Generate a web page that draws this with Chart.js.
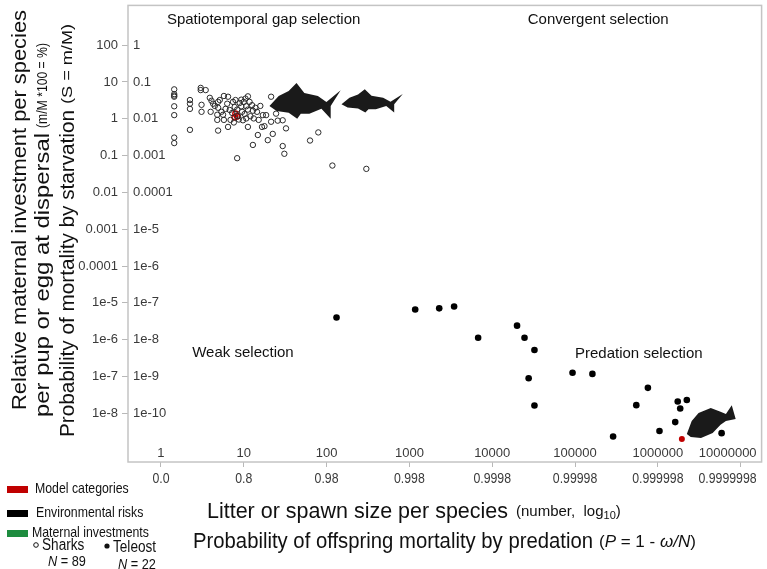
<!DOCTYPE html>
<html>
<head>
<meta charset="utf-8">
<title>Litter size vs maternal investment</title>
<script src="https://cdn.jsdelivr.net/npm/chart.js@4.4.1/dist/chart.umd.min.js"></script>
<style>
  html, body { margin: 0; padding: 0; background: #fff; }
  #wrap { width: 767px; height: 569px; }
</style>
</head>
<body>
<div id="wrap"><canvas id="chart" width="767" height="569"></canvas></div>
<script>
// ticks (log10 decades)
const xDecades = [0, 1, 2, 3, 4, 5, 6, 7];
const xLitterLabels = ['1', '10', '100', '1000', '10000', '100000', '1000000', '10000000'];
const xPredationLabels = ['0.0', '0.8', '0.98', '0.998', '0.9998', '0.99998', '0.999998', '0.9999998'];
const yDecades = [2, 1, 0, -1, -2, -3, -4, -5, -6, -7, -8];
const yInvestLabels = ['100', '10', '1', '0.1', '0.01', '0.001', '0.0001', '1e-5', '1e-6', '1e-7', '1e-8'];
const yStarvLabels = ['1', '0.1', '0.01', '0.001', '0.0001', '1e-5', '1e-6', '1e-7', '1e-8', '1e-9', '1e-10'];

// sharks: log10 litter size / log10 relative investment (%)
const sharkLogLitter = [
  0.16, 0.16, 0.16, 0.16, 0.16, 0.16, 0.16, 0.16,
  0.35, 0.35, 0.35, 0.35,
  0.48, 0.48, 0.54, 0.49, 0.49,
  0.59, 0.61, 0.63, 0.65, 0.69, 0.69, 0.60, 0.68, 0.68, 0.75, 0.76, 0.69,
  0.76, 0.81, 0.80, 0.87, 0.89, 0.97, 1.05, 0.97, 1.03, 1.10, 1.11, 1.08, 1.05, 0.98, 0.93,
  0.94, 0.99, 1.03, 1.01, 1.12, 1.05, 0.81, 1.23, 1.25, 1.22, 1.27, 1.33, 1.41, 1.39, 1.47,
  1.33, 1.17, 1.29, 1.35, 1.11, 0.92, 1.47,
  1.51, 1.49, 1.80, 1.90, 2.07, 2.48,
  0.83, 0.90, 1.16, 0.84, 1.00, 1.18, 0.71,
  0.86, 0.95, 1.07, 0.78, 1.14, 0.92, 0.73, 1.20, 0.88, 1.02
];
const sharkLogInvest = [
  0.80, 0.67, 0.63, 0.60, 0.34, 0.10, -0.51, -0.66,
  0.51, 0.41, 0.27, -0.30,
  0.84, 0.78, 0.78, 0.38, 0.19,
  0.57, 0.49, 0.41, 0.35, 0.46, 0.30, 0.19, 0.11, -0.03, 0.11, -0.03, -0.32,
  0.62, 0.60, 0.41, 0.46, 0.32, 0.52, 0.61, 0.34, 0.34, 0.37, 0.22, 0.07, 0.25, 0.19, 0.07,
  -0.02, -0.04, 0.01, 0.13, 0.01, -0.22, -0.22, 0.10, -0.20, -0.22, 0.10, -0.08, -0.05, 0.14, -0.04,
  0.60, -0.44, -0.58, -0.41, -0.71, -1.07, -0.74,
  -0.26, -0.95, -0.59, -0.37, -1.27, -1.36,
  0.24, 0.51, 0.19, -0.03, 0.46, -0.03, 0.51,
  0.16, 0.43, 0.46, 0.27, 0.30, 0.25, 0.19, 0.35, -0.10, 0.55
];
const sharkModelLogLitter = [0.90, 0.92, 0.89];
const sharkModelLogInvest = [0.14, 0.07, 0.04];

// teleosts
const teleostLogLitter = [2.12, 3.07, 3.36, 3.54, 3.83, 4.30, 4.39, 4.51, 4.44, 4.51, 4.97,
  5.21, 5.46, 5.74, 5.88, 6.02, 6.21, 6.24, 6.27, 6.35, 6.77];
const teleostLogInvest = [-5.40, -5.18, -5.15, -5.10, -5.95, -5.62, -5.95, -6.28, -7.05, -7.79, -6.90,
  -6.93, -8.63, -7.78, -7.31, -8.48, -8.24, -7.68, -7.87, -7.64, -8.54];
const teleostModelLogLitter = [6.29];
const teleostModelLogInvest = [-8.70];

const FONT = '"Liberation Sans", Arial, Helvetica, sans-serif';
const RED = '#c00000';

const toPoints = (xs, ys) => xs.map((x, i) => ({ x: x, y: ys[i] }));

// silhouettes, outline in a unit box (u along body, v top->bottom)
const sharkShape = [[0, 0.64], [0.13, 0.36], [0.27, 0.22], [0.38, 0], [0.49, 0.28], [0.68, 0.36],
  [0.80, 0.53], [1.0, 0.2], [0.86, 0.64], [0.86, 1.0], [0.73, 0.72], [0.56, 0.86], [0.44, 0.86],
  [0.39, 1.0], [0.27, 0.83], [0.10, 0.78]];
const fishShape = [[0, 0.88], [0.10, 0.48], [0.24, 0.24], [0.49, 0.09], [0.69, 0.2], [0.8, 0.27],
  [0.92, 0], [1.0, 0.42], [0.8, 0.48], [0.69, 0.6], [0.53, 0.85], [0.29, 1.0], [0.08, 0.97]];

// draw text pieces one after the other, each may be squeezed horizontally
function drawRich(ctx, segs, x, y, angle) {
  ctx.save();
  ctx.translate(x, y);
  if (angle) ctx.rotate(angle);
  ctx.textBaseline = 'middle';
  ctx.textAlign = 'left';
  let cx = 0;
  segs.forEach(s => {
    if (s.gap) { cx += s.gap; return; }
    ctx.font = (s.italic ? 'italic ' : '') + s.size + 'px ' + FONT;
    const nat = ctx.measureText(s.t).width;
    const sx = s.w ? s.w / nat : (s.sx || 1);
    ctx.save();
    ctx.translate(cx, s.dy || 0);
    ctx.scale(sx, 1);
    ctx.fillText(s.t, 0, 0);
    ctx.restore();
    cx += nat * sx;
  });
  ctx.restore();
}

function textWidth(ctx, t, size, sx) {
  ctx.font = size + 'px ' + FONT;
  return ctx.measureText(t).width * (sx || 1);
}

function drawShape(ctx, shape, x0, x1, y0, y1) {
  ctx.beginPath();
  shape.forEach((p, i) => {
    const px = x0 + p[0] * (x1 - x0);
    const py = y0 + p[1] * (y1 - y0);
    if (i === 0) ctx.moveTo(px, py); else ctx.lineTo(px, py);
  });
  ctx.closePath();
  ctx.fill();
}

const decorPlugin = {
  id: 'decor',
  beforeDatasetsDraw(chart) {
    const { ctx, chartArea: a, scales: { x, y } } = chart;
    ctx.save();
    // frame
    ctx.strokeStyle = '#c4c4c4';
    ctx.lineWidth = 1.5;
    ctx.strokeRect(a.left, a.top, a.right - a.left, a.bottom - a.top);

    ctx.fillStyle = '#3a3a3a';
    ctx.textBaseline = 'middle';
    // inner y labels (starvation)
    ctx.font = '13px ' + FONT;
    ctx.textAlign = 'left';
    yDecades.forEach((d, i) => ctx.fillText(yStarvLabels[i], a.left + 5, y.getPixelForValue(d)));
    // inner x labels (litter size)
    xDecades.forEach((d, i) => {
      const w = textWidth(ctx, xLitterLabels[i], 13);
      let cx = x.getPixelForValue(d);
      cx = Math.min(cx, a.right - 5 - w / 2);
      ctx.font = '13px ' + FONT;
      ctx.textAlign = 'center';
      ctx.fillText(xLitterLabels[i], cx, a.bottom - 9);
    });
    // outer x labels (predation probability), narrow
    xDecades.forEach((d, i) => {
      const w = textWidth(ctx, xPredationLabels[i], 15, 0.82);
      let cx = x.getPixelForValue(d);
      cx = Math.min(cx, a.right - 5 - w / 2);
      drawRich(ctx, [{ t: xPredationLabels[i], size: 15, sx: 0.82 }], cx - w / 2, a.bottom + 17);
    });

    // region notes
    ctx.fillStyle = '#111';
    ctx.font = '15px ' + FONT;
    ctx.textAlign = 'center';
    ctx.fillText('Spatiotemporal gap selection', x.getPixelForValue(1.24), y.getPixelForValue(2.68));
    ctx.fillText('Convergent selection', x.getPixelForValue(5.28), y.getPixelForValue(2.68));
    ctx.fillText('Weak selection', x.getPixelForValue(0.99), y.getPixelForValue(-6.35));
    ctx.fillText('Predation selection', x.getPixelForValue(5.77), y.getPixelForValue(-6.38));

    // silhouettes
    ctx.fillStyle = '#1a1a1a';
    drawShape(ctx, sharkShape, x.getPixelForValue(1.31), x.getPixelForValue(2.17), y.getPixelForValue(0.97), y.getPixelForValue(0.0));
    drawShape(ctx, sharkShape, x.getPixelForValue(2.18), x.getPixelForValue(2.92), y.getPixelForValue(0.80), y.getPixelForValue(0.17));
    drawShape(ctx, fishShape, x.getPixelForValue(6.35), x.getPixelForValue(6.94), y.getPixelForValue(-7.78), y.getPixelForValue(-8.67));
    ctx.restore();
  },
  afterDraw(chart) {
    const ctx = chart.ctx;
    ctx.save();
    ctx.fillStyle = '#111';
    const up = -Math.PI / 2;
    // y titles
    drawRich(ctx, [{ t: 'Relative maternal investment per species', size: 20, w: 400 }], 20, 410, up);
    drawRich(ctx, [{ t: 'per pup or egg at dispersal', size: 20, w: 284 }, { gap: 5 },
      { t: '(m/M *100 = %)', size: 14, w: 85 }], 43, 417, up);
    drawRich(ctx, [{ t: 'Probability of mortality by starvation', size: 20, w: 327 }, { gap: 6 },
      { t: '(S = m/M)', size: 14, w: 80 }], 68, 437, up);

    // x titles
    drawRich(ctx, [{ t: 'Litter or spawn size per species', size: 22, w: 301 }, { gap: 8 },
      { t: '(number,  log', size: 15 }, { t: '10', size: 11, dy: 4 },
      { t: ')', size: 15 }], 207, 512);
    drawRich(ctx, [{ t: 'Probability of offspring mortality by predation', size: 22, w: 400 }, { gap: 6 },
      { t: '(', size: 17 }, { t: 'P', size: 17, italic: true }, { t: ' = 1 - ', size: 17 },
      { t: 'ω/N', size: 17, italic: true }, { t: ')', size: 17 }], 193, 542);

    // legend
    const legend = [['Model categories', RED, 489, 35], ['Environmental risks', '#000', 513, 36],
      ['Maternal investments', '#1e8c3f', 533, 32]];
    legend.forEach(l => {
      ctx.fillStyle = l[1];
      ctx.fillRect(7, l[2] - 3, 21, 7);
      ctx.fillStyle = '#111';
      drawRich(ctx, [{ t: l[0], size: 15, sx: 0.82 }], l[3], l[2]);
    });
    ctx.strokeStyle = '#111';
    ctx.lineWidth = 1;
    ctx.beginPath();
    ctx.arc(36, 545, 2.3, 0, Math.PI * 2);
    ctx.stroke();
    ctx.beginPath();
    ctx.arc(107, 546, 2.6, 0, Math.PI * 2);
    ctx.fill();
    drawRich(ctx, [{ t: 'Sharks', size: 16, sx: 0.85 }], 42, 546);
    drawRich(ctx, [{ t: 'Teleost', size: 16, sx: 0.85 }], 113, 548);
    drawRich(ctx, [{ t: 'N', size: 15, italic: true, sx: 0.85 }, { t: ' = 89', size: 15, sx: 0.85 }], 48, 562);
    drawRich(ctx, [{ t: 'N', size: 15, italic: true, sx: 0.85 }, { t: ' = 22', size: 15, sx: 0.85 }], 118, 565);
    ctx.restore();
  }
};

new Chart(document.getElementById('chart'), {
  type: 'scatter',
  data: {
    datasets: [
      {
        label: 'Sharks',
        data: toPoints(sharkLogLitter, sharkLogInvest),
        pointRadius: 2.7,
        pointBorderWidth: 1,
        pointBorderColor: '#2a2a2a',
        pointBackgroundColor: 'rgba(255,255,255,0)'
      },
      {
        label: 'Sharks (model)',
        data: toPoints(sharkModelLogLitter, sharkModelLogInvest),
        pointRadius: 2.7,
        pointBorderWidth: 1.4,
        pointBorderColor: RED,
        pointBackgroundColor: 'rgba(255,255,255,0)'
      },
      {
        label: 'Teleost',
        data: toPoints(teleostLogLitter, teleostLogInvest),
        pointRadius: 3.3,
        pointBorderWidth: 0,
        pointBackgroundColor: '#000'
      },
      {
        label: 'Teleost (model)',
        data: toPoints(teleostModelLogLitter, teleostModelLogInvest),
        pointRadius: 3,
        pointBorderWidth: 0,
        pointBackgroundColor: RED
      }
    ]
  },
  options: {
    responsive: false,
    animation: false,
    layout: { padding: { left: 0, right: 4, top: 3, bottom: 0 } },
    plugins: { legend: { display: false }, tooltip: { enabled: false } },
    scales: {
      x: {
        type: 'linear',
        min: -0.398,
        max: 7.253,
        afterBuildTicks: s => { s.ticks = xDecades.map(v => ({ value: v })); },
        afterFit: s => { s.height = 107; s.paddingLeft = 0; s.paddingRight = 0; },
        ticks: { display: false },
        grid: { drawOnChartArea: false, drawTicks: true, tickLength: 5, color: '#b8b8b8' },
        border: { display: false }
      },
      y: {
        type: 'linear',
        min: -9.324,
        max: 3.081,
        afterBuildTicks: s => { s.ticks = yDecades.map(v => ({ value: v })); },
        afterFit: s => { s.width = 128; s.paddingTop = 0; s.paddingBottom = 0; },
        ticks: {
          autoSkip: false,
          padding: 4,
          color: '#3a3a3a',
          font: { family: FONT, size: 13 },
          callback: v => yInvestLabels[yDecades.indexOf(v)]
        },
        grid: { drawOnChartArea: false, drawTicks: true, tickLength: 6, color: '#b8b8b8' },
        border: { display: false }
      }
    }
  },
  plugins: [decorPlugin]
});
</script>
</body>
</html>
